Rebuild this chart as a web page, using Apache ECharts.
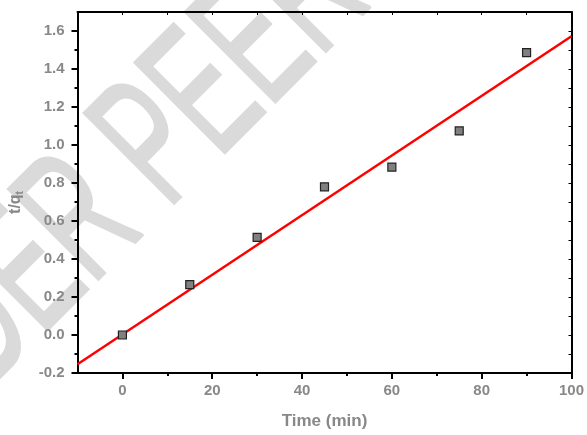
<!DOCTYPE html>
<html><head><meta charset="utf-8">
<script src="https://cdn.jsdelivr.net/npm/echarts@6/dist/echarts.min.js"></script>
<style>html,body{margin:0;padding:0;background:#fff}#c{width:587px;height:435px}</style>
</head><body><div id="c"></div>
<script>
var timeMin = [0, 15, 30, 45, 60, 75, 90];
var tOverQ = [0.0, 0.265, 0.514, 0.78, 0.884, 1.074, 1.486];
var fitX = [-10, 100];
var fitY = [-0.154, 1.572];
var xMajor = [0, 20, 40, 60, 80, 100];
var xMinor = [10, 30, 50, 70, 90];
var yMajor = [-0.2, 0, 0.2, 0.4, 0.6, 0.8, 1.0, 1.2, 1.4, 1.6];
var yMinor = [-0.1, 0.1, 0.3, 0.5, 0.7, 0.9, 1.1, 1.3, 1.5];
var watermark = 'UNDER PEER REVIEW';

var chart = echarts.init(document.getElementById('c'));
var lblFont = {color: '#888', fontWeight: 'bold', fontSize: 15, fontFamily: 'Liberation Sans, Arial, sans-serif'};
var axLine = {show: true, onZero: false, lineStyle: {color: '#000', width: 2}};
function xa(opt) {
  return Object.assign({type: 'value', min: -10, max: 100, splitLine: {show: false}, axisLine: axLine}, opt);
}
function ya(opt) {
  return Object.assign({type: 'value', min: -0.2, max: 1.7, splitLine: {show: false}, axisLine: axLine}, opt);
}
chart.setOption({
  animation: false,
  backgroundColor: '#fff',
  graphic: [{
    type: 'text', z: 0, silent: true,
    x: -94, y: 530, rotation: 45 * Math.PI / 180, scaleX: 0.58, scaleY: 1,
    style: {text: watermark, fontSize: 185, fontFamily: 'Liberation Sans', fill: '#dadada',
            stroke: '#dadada', lineWidth: 3,
            textAlign: 'left', textVerticalAlign: 'bottom'}
  }],
  grid: {left: 77, right: 11, top: 12, bottom: 62, containLabel: false},
  xAxis: [
    xa({position: 'bottom', name: 'Time (min)', nameLocation: 'middle', nameGap: 40,
        nameTextStyle: Object.assign({}, lblFont, {fontSize: 17}),
        axisTick: {show: true, length: 6, lineStyle: {width: 2, color: '#000'}, customValues: xMajor},
        axisLabel: Object.assign({margin: 10, customValues: xMajor}, lblFont)}),
    xa({position: 'bottom', axisTick: {show: true, length: 3, lineStyle: {width: 2, color: '#000'}, customValues: xMinor},
        axisLabel: {show: false}}),
    xa({position: 'top', axisTick: {show: true, inside: true, length: 3, lineStyle: {width: 1, color: '#000'}, customValues: xMajor.concat(xMinor)},
        axisLabel: {show: false}})
  ],
  yAxis: [
    ya({position: 'left', name: '{a|t/q}{s|t}', nameLocation: 'middle', nameGap: 52,
        nameTextStyle: {padding: [0, 20, 0, 0],
          rich: {a: Object.assign({}, lblFont, {fontSize: 16}), s: Object.assign({}, lblFont, {fontSize: 10, padding: [9, 0, 0, 0]})}},
        axisTick: {show: true, length: 6, lineStyle: {width: 2, color: '#000'}, customValues: yMajor},
        axisLabel: Object.assign({margin: 13, customValues: yMajor, formatter: function (v) { return v.toFixed(1); }}, lblFont)}),
    ya({position: 'left', axisTick: {show: true, length: 3, lineStyle: {width: 2, color: '#000'}, customValues: yMinor},
        axisLabel: {show: false}}),
    ya({position: 'right', axisTick: {show: true, inside: true, length: 3, lineStyle: {width: 1, color: '#000'}, customValues: yMajor.concat(yMinor)},
        axisLabel: {show: false}})
  ],
  series: [
    {type: 'line', data: fitX.map(function (x, i) { return [x, fitY[i]]; }), showSymbol: false, symbol: 'none',
     lineStyle: {color: '#ff0000', width: 2.5}, z: 3},
    {type: 'scatter', data: timeMin.map(function (x, i) { return [x, tOverQ[i]]; }), symbol: 'rect', symbolSize: 8,
     itemStyle: {color: '#808080', borderColor: '#222', borderWidth: 1.2, opacity: 1}, z: 4}
  ]
});
</script></body></html>
